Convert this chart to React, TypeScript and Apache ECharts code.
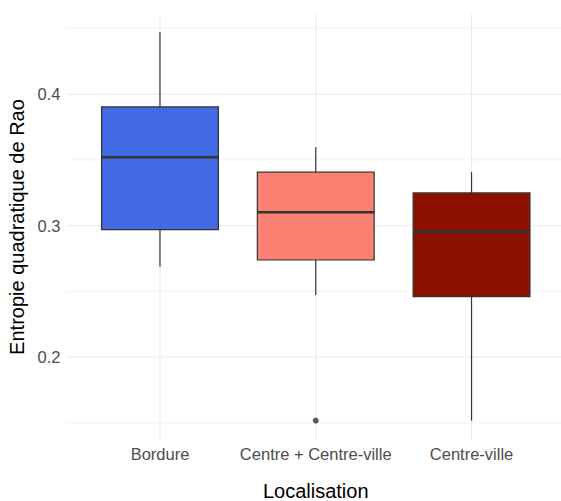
import React, { useEffect, useRef } from "react";
import * as echarts from "echarts";

const categories = ["Bordure", "Centre + Centre-ville", "Centre-ville"];
// [whiskerLow, Q1, median, Q3, whiskerHigh]
const boxStats = [
  [0.2688, 0.297, 0.352, 0.3903, 0.4471],
  [0.2473, 0.2739, 0.3102, 0.3407, 0.3597],
  [0.1518, 0.246, 0.2957, 0.3249, 0.3407],
];
const outliers = [[2, 0.1518]];
const fillColors = ["#4169E1", "#FA8072", "#8B1000"];
const yMajor = [0.2, 0.3, 0.4];
const yMinor = [0.15, 0.25, 0.35, 0.45];
const yMin = 0.137;
const yMax = 0.461;
const xMin = 0.4;
const xMax = 3.6;

export default function App() {
  const ref = useRef<HTMLDivElement>(null);
  useEffect(() => {
    if (!ref.current) return;
    const chart = echarts.init(ref.current, undefined, { renderer: "svg" });
    const font = "'Liberation Sans', Arial, sans-serif";
    const boxData = boxStats.map((s, i) => [i + 1, ...s]);
    const gridData: any[] = [
      ...yMinor.map((v) => ["h", v, 0.5]),
      ...yMajor.map((v) => ["h", v, 1]),
      ...categories.map((_, i) => ["v", i + 1, 1]),
    ];
    chart.setOption({
      animation: false,
      grid: {
        left: 66.5,
        right: -4,
        top: 14,
        bottom: 61,
        containLabel: false,
        outerBoundsMode: "none",
      },
      xAxis: {
        type: "value",
        min: xMin,
        max: xMax,
        interval: 0.2,
        name: "Localisation",
        nameLocation: "middle",
        nameGap: 41,
        nameTextStyle: { color: "#000", fontSize: 20, fontFamily: font },
        axisLine: { show: false },
        axisTick: { show: false },
        splitLine: { show: false },
        axisLabel: {
          color: "#4D4D4D",
          fontSize: 16.5,
          fontFamily: font,
          margin: 5,
          showMinLabel: true,
          showMaxLabel: true,
          formatter: (v: number) => {
            const r = Math.round(v);
            if (Math.abs(v - r) < 1e-6 && r >= 1 && r <= categories.length) return categories[r - 1];
            return "";
          },
        },
      },
      yAxis: {
        type: "value",
        min: yMin,
        max: yMax,
        name: "Entropie quadratique de Rao",
        nameLocation: "middle",
        nameGap: 29,
        nameTextStyle: { color: "#000", fontSize: 20, fontFamily: font },
        axisLine: { show: false },
        axisTick: { show: false },
        splitLine: { show: false },
        axisLabel: {
          color: "#4D4D4D",
          fontSize: 16.5,
          fontFamily: font,
          margin: 6,
          formatter: (v: number) => {
            for (const m of yMajor) if (Math.abs(v - m) < 1e-6) return String(m);
            return "";
          },
        },
      },
      series: [
        {
          type: "custom",
          z: 1,
          silent: true,
          data: gridData,
          encode: { x: 1, y: 1 },
          clip: true,
          renderItem: (params: any, api: any) => {
            const kind = gridData[params.dataIndex][0];
            const v = api.value(1);
            const w = api.value(2);
            let a, b;
            if (kind === "h") {
              a = api.coord([xMin, v]);
              b = api.coord([xMax, v]);
            } else {
              a = api.coord([v, yMin]);
              b = api.coord([v, yMax]);
            }
            return {
              type: "line",
              shape: { x1: a[0], y1: a[1], x2: b[0], y2: b[1] },
              style: { stroke: "#EBEBEB", lineWidth: w === 1 ? 1.1 : 0.6 },
            };
          },
        },
        {
          type: "custom",
          z: 2,
          data: boxData,
          encode: { x: 0, y: [1, 2, 3, 4, 5] },
          renderItem: (params: any, api: any) => {
            const x = api.value(0);
            const lo = api.value(1);
            const q1 = api.value(2);
            const med = api.value(3);
            const q3 = api.value(4);
            const hi = api.value(5);
            const half = 0.375;
            const pL = api.coord([x - half, q3]);
            const pR = api.coord([x + half, q1]);
            const pC = api.coord([x, med]);
            const pLo = api.coord([x, lo]);
            const pHi = api.coord([x, hi]);
            const pMedL = api.coord([x - half, med]);
            const pMedR = api.coord([x + half, med]);
            const stroke = "#333333";
            return {
              type: "group",
              children: [
                {
                  type: "line",
                  shape: { x1: pC[0], y1: pHi[1], x2: pC[0], y2: pL[1] },
                  style: { stroke, lineWidth: 1.2 },
                },
                {
                  type: "line",
                  shape: { x1: pC[0], y1: pR[1], x2: pC[0], y2: pLo[1] },
                  style: { stroke, lineWidth: 1.2 },
                },
                {
                  type: "rect",
                  shape: { x: pL[0], y: pL[1], width: pR[0] - pL[0], height: pR[1] - pL[1] },
                  style: { fill: fillColors[params.dataIndex], stroke, lineWidth: 1.2 },
                },
                {
                  type: "line",
                  shape: { x1: pMedL[0], y1: pMedL[1], x2: pMedR[0], y2: pMedR[1] },
                  style: { stroke, lineWidth: 2.6 },
                },
              ],
            };
          },
        },
        {
          type: "scatter",
          z: 3,
          data: outliers,
          symbol: "circle",
          symbolSize: 6,
          itemStyle: { color: "#333333" },
        },
      ],
    });
    return () => chart.dispose();
  }, []);
  return (
    <div
      ref={ref}
      style={{ position: "fixed", left: 0, top: 0, width: 561, height: 501, background: "#fff" }}
    />
  );
}
